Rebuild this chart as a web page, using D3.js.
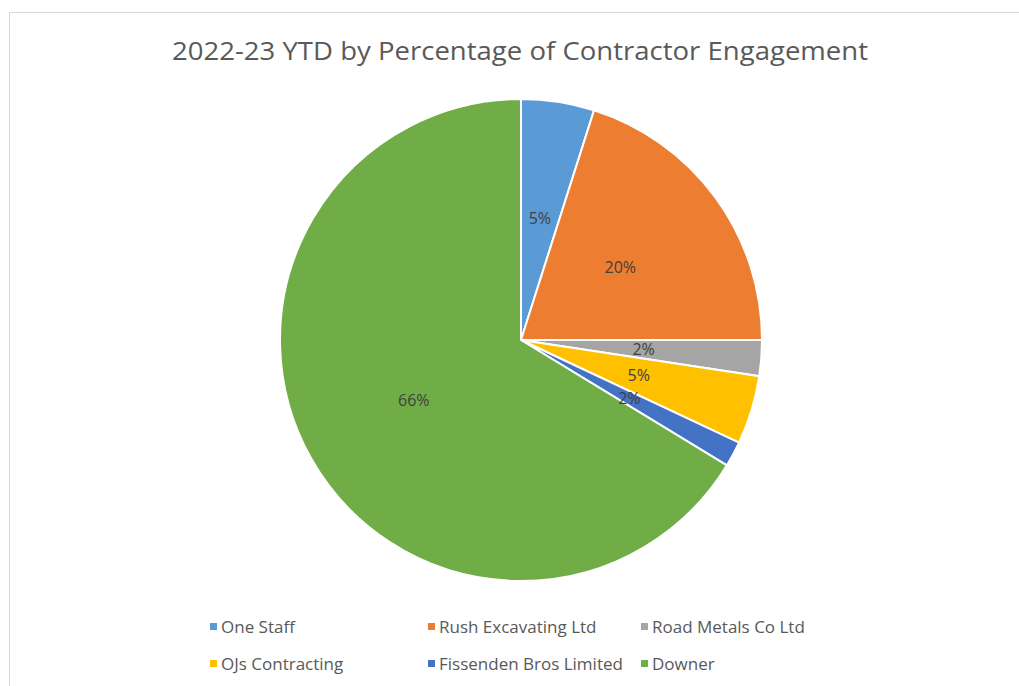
<!DOCTYPE html>
<html>
<head>
<meta charset="utf-8">
<script src="https://cdn.jsdelivr.net/npm/d3@7"></script>
<style>
  body { margin: 0; background: #fff; }
  svg text { font-family: "Open Sans", Lato, sans-serif; }
</style>
</head>
<body>
<svg id="chart" width="1019" height="686"></svg>
<script>
const categories = ["One Staff", "Rush Excavating Ltd", "Road Metals Co Ltd", "OJs Contracting", "Fissenden Bros Limited", "Downer"];
const values = [4.9, 20.1, 2.4, 4.6, 1.7, 66.3];
const labels = ["5%", "20%", "2%", "5%", "2%", "66%"];
const colors = ["#5b9bd5", "#ed7d31", "#a5a5a5", "#ffc000", "#4472c4", "#70ad47"];

const svg = d3.select("#chart");
const cx = 521, cy = 340, radius = 241;

// chart area border
svg.append("rect")
  .attr("x", 9.5).attr("y", 12.5)
  .attr("width", 1019).attr("height", 700)
  .attr("fill", "none")
  .attr("stroke", "#d9d9d9");

svg.append("text")
  .attr("x", 520).attr("y", 60)
  .attr("text-anchor", "middle")
  .attr("font-size", 26)
  .attr("fill", "#595959")
  .attr("textLength", 696)
  .attr("lengthAdjust", "spacingAndGlyphs")
  .text("2022-23 YTD by Percentage of Contractor Engagement");

const pie = d3.pie().sort(null).value(d => d);
const arcs = pie(values);
const arc = d3.arc().innerRadius(0).outerRadius(radius);
const labelArc = d3.arc().innerRadius(123).outerRadius(123);

const g = svg.append("g").attr("transform", `translate(${cx},${cy})`);

g.selectAll("path")
  .data(arcs)
  .enter()
  .append("path")
  .attr("d", arc)
  .attr("fill", (d, i) => colors[i])
  .attr("stroke", "#fff")
  .attr("stroke-width", 2);

g.selectAll("text")
  .data(arcs)
  .enter()
  .append("text")
  .attr("transform", d => `translate(${labelArc.centroid(d)})`)
  .attr("text-anchor", "middle")
  .attr("dy", "0.35em")
  .attr("font-size", 16)
  .attr("fill", "#404040")
  .text((d, i) => labels[i]);

// legend, 3 columns x 2 rows
const colX = [210, 428, 641];
const rowY = [627, 664];
const legend = svg.append("g");
categories.forEach((c, i) => {
  const x = colX[i % 3], y = rowY[Math.floor(i / 3)];
  legend.append("rect")
    .attr("x", x).attr("y", y - 4)
    .attr("width", 7).attr("height", 7)
    .attr("fill", colors[i]);
  legend.append("text")
    .attr("x", x + 11).attr("y", y)
    .attr("dy", "0.35em")
    .attr("font-size", 17)
    .attr("fill", "#595959")
    .text(c);
});
</script>
</body>
</html>
